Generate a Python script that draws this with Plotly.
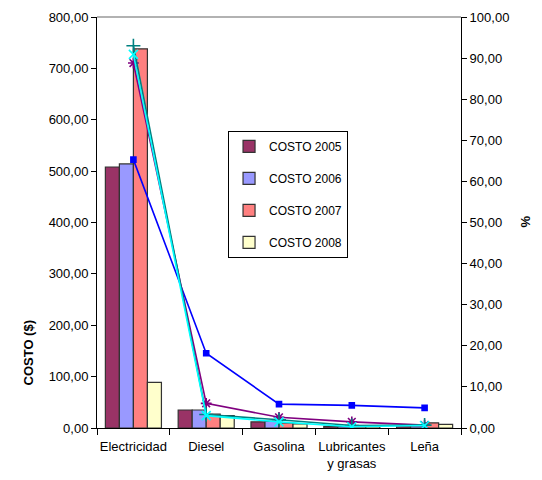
import plotly.graph_objects as go

categories = ["Electricidad", "Diesel", "Gasolina", "Lubricantes<br>y grasas", "Leña"]

costo_2005 = [508, 35, 12, 3, 4]
costo_2006 = [514, 35, 13.5, 3, 4]
costo_2007 = [738, 27, 10, 4, 10]
costo_2008 = [89, 24, 8, 3, 7]

pct_a = [65.3, 18.2, 5.8, 5.5, 4.9]   # blue, squares
pct_b = [88.8, 6.0, 2.6, 1.5, 0.7]    # purple, asterisks
pct_c = [93.0, 3.3, 2.0, 0.6, 0.7]    # teal, plus
pct_d = [90.9, 3.0, 1.5, 0.3, 0.6]    # cyan, x

left_ticks = [0, 100, 200, 300, 400, 500, 600, 700, 800]
right_ticks = [0, 10, 20, 30, 40, 50, 60, 70, 80, 90, 100]

FONT = "Liberation Sans, Arial, sans-serif"

fig = go.Figure()

bar_series = [
    ("COSTO 2005", costo_2005, "#993366"),
    ("COSTO 2006", costo_2006, "#9999FF"),
    ("COSTO 2007", costo_2007, "#FF8080"),
    ("COSTO 2008", costo_2008, "#FFFFCC"),
]
for name, vals, col in bar_series:
    fig.add_trace(go.Bar(
        x=categories, y=vals, name=name, legendgroup=name,
        marker=dict(color=col, line=dict(color="#333333", width=1.2)),
    ))

line_series = [
    (pct_a, "#0000FF", "square", 5),
    (pct_b, "#800080", "asterisk-open", 9),
    (pct_c, "#008080", "cross-thin-open", 10),
    (pct_d, "#00FFFF", "x-thin-open", 9),
]
for vals, col, sym, sz in line_series:
    fig.add_trace(go.Scatter(
        x=categories, y=vals, yaxis="y2", mode="lines+markers",
        line=dict(color=col, width=1.6),
        marker=dict(symbol=sym, size=sz, color=col, line=dict(color=col, width=1.6)),
        showlegend=False,
    ))

fmt = lambda v: f"{v:.2f}".replace(".", ",")

fig.update_layout(
    width=542, height=480,
    margin=dict(l=97, r=81, t=17, b=52, autoexpand=False),
    paper_bgcolor="white", plot_bgcolor="white",
    font=dict(family=FONT, size=13, color="#000000"),
    barmode="group", bargap=0.23, bargroupgap=0,
    xaxis=dict(
        showline=True, linecolor="#000000", linewidth=1,
        ticks="outside", tickson="boundaries", ticklen=6, tickcolor="#000000",
        showgrid=False, ticklabelstandoff=6, tickangle=0, automargin=False,
        tickfont=dict(family=FONT, size=13),
    ),
    yaxis=dict(
        range=[0, 800], tickvals=left_ticks, ticktext=[fmt(v) for v in left_ticks],
        showline=True, linecolor="#000000", linewidth=1,
        ticks="outside", ticklen=5, tickcolor="#000000",
        showgrid=False, zeroline=False, automargin=False,
        tickfont=dict(family=FONT, size=13),
    ),
    yaxis2=dict(
        range=[0, 100], tickvals=right_ticks, ticktext=[fmt(v) for v in right_ticks],
        overlaying="y", side="right",
        showline=True, linecolor="#000000", linewidth=1,
        ticks="outside", ticklen=5, tickcolor="#000000",
        showgrid=False, zeroline=False, automargin=False,
        tickfont=dict(family=FONT, size=13),
    ),
    legend=dict(
        x=0.36, y=0.723, xanchor="left", yanchor="top",
        bgcolor="white", bordercolor="#000000", borderwidth=1,
        font=dict(family=FONT, size=12),
        traceorder="grouped", tracegroupgap=13,
    ),
    shapes=[dict(type="line", xref="paper", yref="paper", x0=0, x1=1, y0=1, y1=1,
                 line=dict(color="#999999", width=1.5))],
    annotations=[
        dict(text="<b>COSTO ($)</b>", xref="paper", yref="paper",
             x=-97 / 364 + 18 / 364, y=(428 - 388) / 411, textangle=-90,
             showarrow=False, font=dict(family=FONT, size=13)),
        dict(text="<b>%</b>", xref="paper", yref="paper",
             x=1 + (535 - 461) / 364, y=(428 - 222) / 411, textangle=-90,
             showarrow=False, font=dict(family=FONT, size=13)),
    ],
)

fig.write_html("out.html")
